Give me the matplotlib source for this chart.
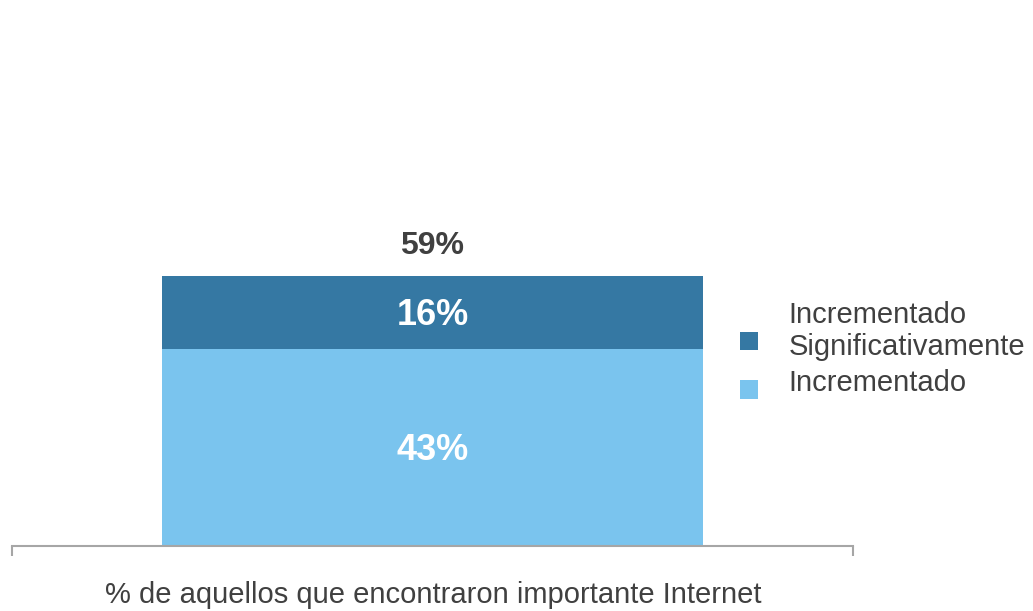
import matplotlib.pyplot as plt
from matplotlib.patches import Patch

plt.rcParams['font.family'] = ['Liberation Sans', 'DejaVu Sans']

# Data
category = ['% de aquellos que encontraron importante Internet']
incrementado = [43]
significativo = [16]
series_names = ['Incrementado\nSignificativamente', 'Incrementado']

light = '#7ac4ee'
dark = '#3578a3'
text_gray = '#404040'

fig = plt.figure(figsize=(10.33, 6.11), dpi=100)
ax = fig.add_axes([12 / 1033, 1 - 546 / 611, 841 / 1033, 546 / 611])

x = [0]
ax.bar(x, incrementado, width=0.643, color=light)
ax.bar(x, significativo, width=0.643, bottom=incrementado, color=dark)

# Segment labels and total on top
for xi, a, b in zip(x, incrementado, significativo):
    ax.text(xi, a / 2 - 0.7, f'{a}%', ha='center', va='center', color='white',
            fontsize=26, fontweight='bold')
    ax.text(xi, a + b / 2 - 0.7, f'{b}%', ha='center', va='center', color='white',
            fontsize=26, fontweight='bold')
    ax.text(xi, a + b + 6.4, f'{a + b}%', ha='center', va='center',
            color=text_gray, fontsize=23, fontweight='bold')

ax.set_xlim(-0.5, 0.5)
ax.set_ylim(0, 546 / 4.58)

for side in ['top', 'right', 'left']:
    ax.spines[side].set_visible(False)
ax.spines['bottom'].set_color('#a6a6a6')
ax.spines['bottom'].set_linewidth(1.5)
ax.set_yticks([])
ax.set_xticks([-0.5, 0.5])
ax.set_xticklabels(['', ''])
ax.tick_params(axis='x', direction='out', length=7, width=1.5, color='#a6a6a6')

fig.text(433 / 1033, 1 - 595 / 611, category[0], ha='center', va='center',
         fontsize=21, color=text_gray)

handles = [Patch(facecolor=dark), Patch(facecolor=light)]
leg = fig.legend(handles, series_names, loc='upper left',
                 bbox_to_anchor=(740 / 1033, 1 - 301 / 611), frameon=False,
                 borderpad=0, borderaxespad=0,
                 fontsize=21, handlelength=0.6, handleheight=0.6,
                 handletextpad=1.07, labelspacing=0.25, labelcolor=text_gray)
# squares sit a little below the middle of their labels
for patch in leg.get_patches():
    patch.set_y(patch.get_y() - 6.5)

fig.savefig('out.png', dpi=100)
